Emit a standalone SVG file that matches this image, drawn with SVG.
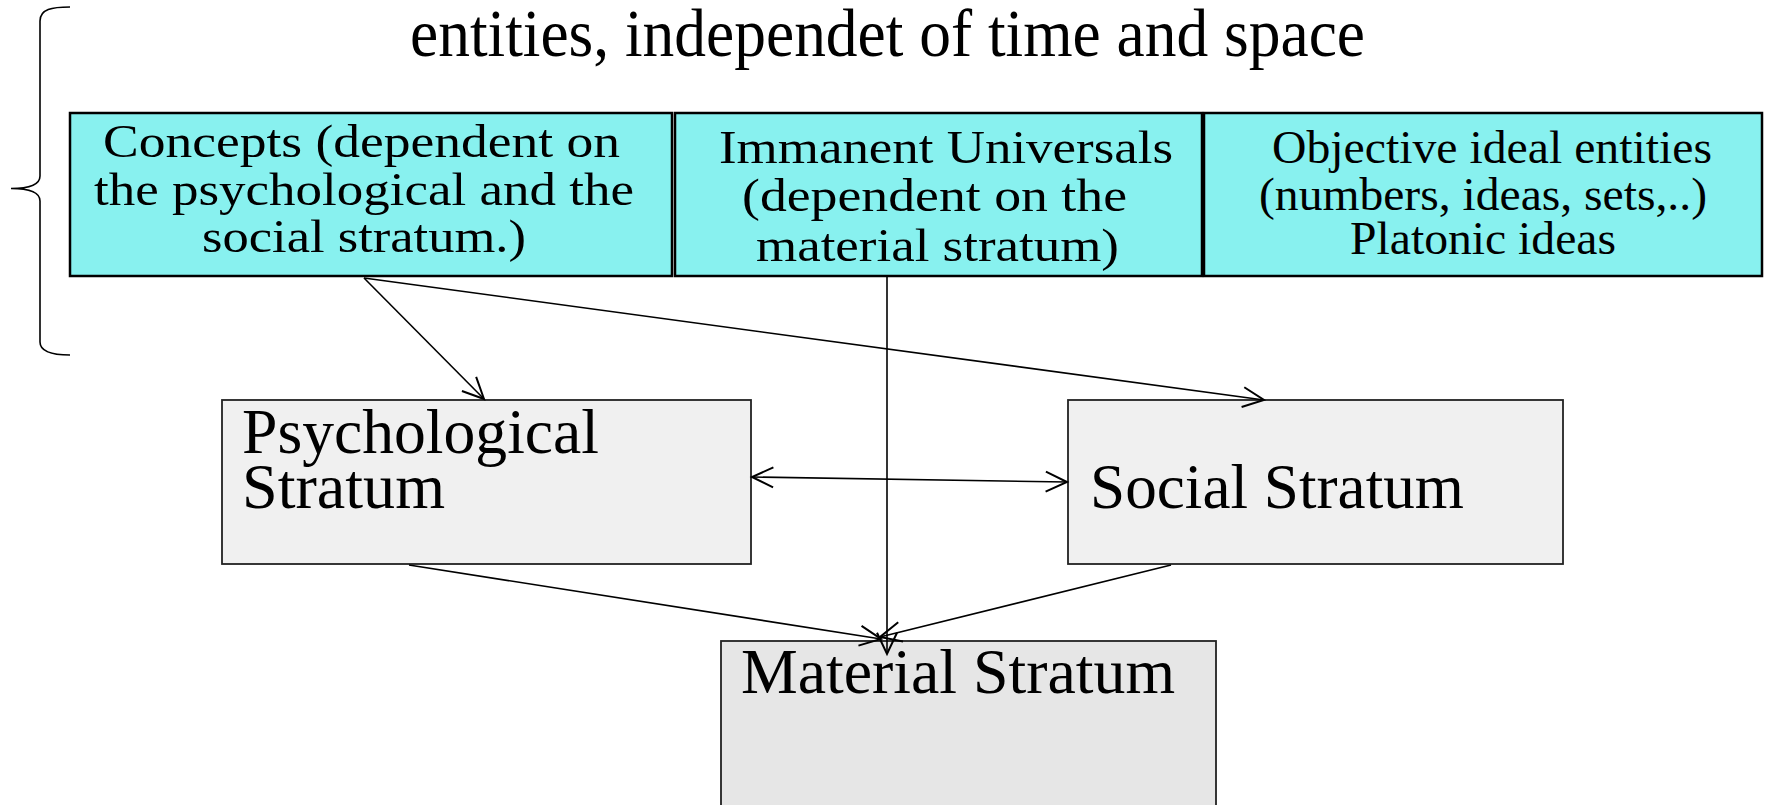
<svg xmlns="http://www.w3.org/2000/svg" width="1766" height="805" viewBox="0 0 1766 805">
<style>
  .txt { font-family: "Liberation Serif", "Times New Roman", serif; fill: #000; }
  .top { fill: #88F1EF; stroke: #000; stroke-width: 2.5; }
  .mid { fill: #F0F0F0; stroke: #222; stroke-width: 1.8; }
  .mat { fill: #E6E6E6; stroke: #222; stroke-width: 1.8; }
  .conn line { stroke: #000; stroke-width: 1.6; fill: none; }
  .brace { fill: none; stroke: #000; stroke-width: 1.6; }
</style>
<defs>
  <marker id="arr" markerUnits="userSpaceOnUse" markerWidth="30" markerHeight="30" viewBox="-20 -12 24 24" refX="0" refY="0" orient="auto-start-reverse">
    <path d="M-17,-8 L0,0 L-17,8" fill="none" stroke="#000" stroke-width="1.6"/>
  </marker>
</defs>
<rect width="1766" height="805" fill="#fff"/>

<g id="title">
  <path class="brace" d="M70,7 C52,7 40,9 40,21 L40,176 C40,185 30,188.5 11,188.5 C30,188.5 40,192 40,201 L40,342 C40,352 52,355 70,355"/>
  <text class="txt" x="410" y="56" font-size="68" textLength="955" lengthAdjust="spacingAndGlyphs">entities, independet of time and space</text>
</g>

<g id="concepts">
  <rect class="top" x="70" y="113" width="602" height="163"/>
  <text class="txt" font-size="47" x="103" y="157" textLength="517" lengthAdjust="spacingAndGlyphs">Concepts (dependent on</text>
  <text class="txt" font-size="47" x="94" y="205" textLength="540" lengthAdjust="spacingAndGlyphs">the psychological and the</text>
  <text class="txt" font-size="47" x="202" y="252" textLength="324" lengthAdjust="spacingAndGlyphs">social stratum.)</text>
</g>

<g id="immanent">
  <rect class="top" x="675" y="113" width="527" height="163"/>
  <text class="txt" font-size="47" x="719" y="163" textLength="454" lengthAdjust="spacingAndGlyphs">Immanent Universals</text>
  <text class="txt" font-size="47" x="742" y="211" textLength="385" lengthAdjust="spacingAndGlyphs">(dependent on the</text>
  <text class="txt" font-size="47" x="756" y="261" textLength="363" lengthAdjust="spacingAndGlyphs">material stratum)</text>
</g>

<g id="objective">
  <rect class="top" x="1204" y="113" width="558" height="163"/>
  <text class="txt" font-size="46" x="1272" y="163" textLength="440" lengthAdjust="spacingAndGlyphs">Objective ideal entities</text>
  <text class="txt" font-size="46" x="1259" y="210" textLength="448" lengthAdjust="spacingAndGlyphs">(numbers, ideas, sets,..)</text>
  <text class="txt" font-size="46" x="1350" y="254" textLength="266" lengthAdjust="spacingAndGlyphs">Platonic ideas</text>
</g>

<g id="psychological">
  <rect class="mid" x="222" y="400" width="529" height="164"/>
  <text class="txt" font-size="64" x="242" y="453" textLength="357" lengthAdjust="spacingAndGlyphs">Psychological</text>
  <text class="txt" font-size="64" x="242" y="508" textLength="203" lengthAdjust="spacingAndGlyphs">Stratum</text>
</g>

<g id="social">
  <rect class="mid" x="1068" y="400" width="495" height="164"/>
  <text class="txt" font-size="64" x="1090" y="508" textLength="374" lengthAdjust="spacingAndGlyphs">Social Stratum</text>
</g>

<g id="material">
  <rect class="mat" x="721" y="641" width="495" height="180"/>
  <text class="txt" font-size="64" x="741" y="693" textLength="434" lengthAdjust="spacingAndGlyphs">Material Stratum</text>
</g>

<g id="connectors" class="conn">
  <line x1="364" y1="278" x2="484" y2="399" marker-end="url(#arr)"/>
  <line x1="364" y1="278" x2="1264" y2="400" marker-end="url(#arr)"/>
  <line x1="887" y1="277" x2="887" y2="654" marker-end="url(#arr)"/>
  <line x1="409" y1="565" x2="881" y2="639" marker-end="url(#arr)"/>
  <line x1="1171" y1="565" x2="880" y2="637" marker-end="url(#arr)"/>
  <line x1="752" y1="477" x2="1067" y2="482" marker-start="url(#arr)" marker-end="url(#arr)"/>
</g>
</svg>
